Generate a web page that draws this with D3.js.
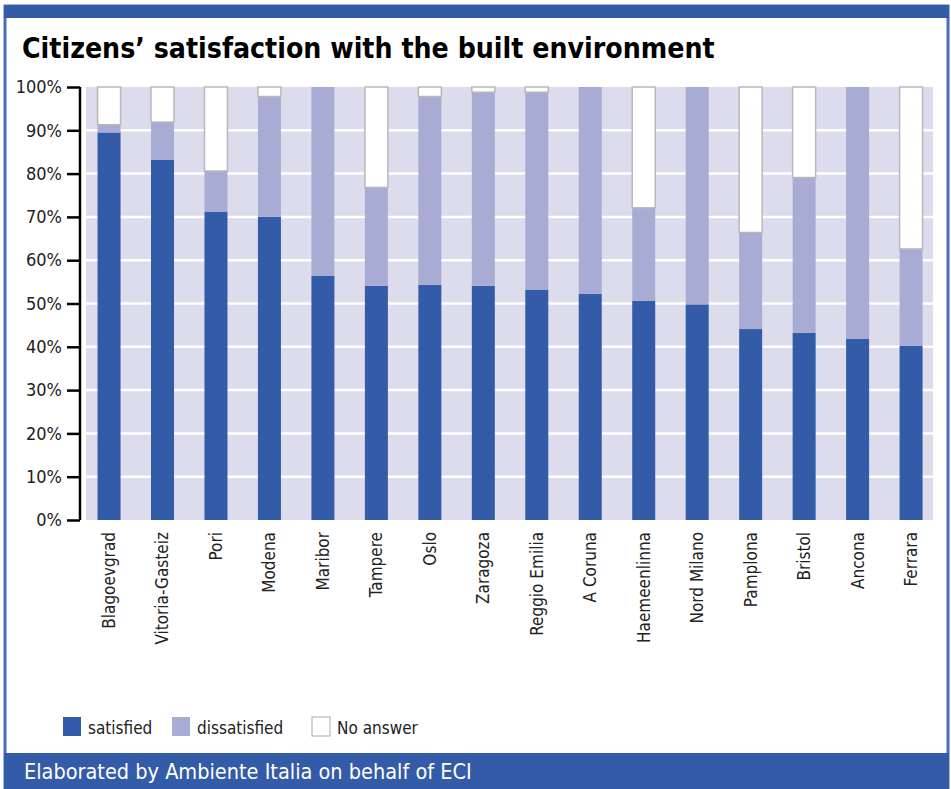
<!DOCTYPE html>
<html>
<head>
<meta charset="utf-8">
<script src="https://cdn.jsdelivr.net/npm/d3@7"></script>
<style>
  html, body { margin: 0; padding: 0; background: #ffffff; }
  svg { display: block; }
</style>
</head>
<body>
<svg id="chart" width="951" height="789"></svg>
<script>
const title = "Citizens\u2019 satisfaction with the built environment";
const footer = "Elaborated by Ambiente Italia on behalf of ECI";
const categories = ["Blagoevgrad", "Vitoria-Gasteiz", "Pori", "Modena", "Maribor", "Tampere", "Oslo", "Zaragoza", "Reggio Emilia", "A Coruna", "Haemeenlinna", "Nord Milano", "Pamplona", "Bristol", "Ancona", "Ferrara"];
const satisfied    = [89.5, 83.2, 71.2, 70.0, 56.4, 54.1, 54.3, 54.1, 53.2, 52.2, 50.6, 49.8, 44.1, 43.2, 41.8, 40.2];
const dissatisfied = [1.8, 8.7, 9.4, 27.8, 43.6, 22.7, 43.5, 44.7, 45.6, 47.8, 21.5, 50.2, 22.3, 35.9, 58.2, 22.4];
const noAnswer     = [8.7, 8.1, 19.4, 2.2, 0, 23.2, 2.2, 1.2, 1.2, 0, 27.9, 0, 33.6, 20.9, 0, 37.4];
const seriesNames  = ["satisfied", "dissatisfied", "No answer"];
const yTicks = [0, 10, 20, 30, 40, 50, 60, 70, 80, 90, 100];

const BLUE = "#345ba7";
const LIGHT = "#a8abd3";
const BG = "#dddcec";
const NARROW = "'Liberation Sans Narrow', 'DejaVu Sans Condensed', 'Arial Narrow', sans-serif";

const svg = d3.select("#chart");

// frame
svg.append("rect").attr("x", 5).attr("y", 6).attr("width", 943).attr("height", 783).attr("fill", "#ffffff")
  .attr("stroke", "#4a6fb8").attr("stroke-width", 3);
svg.append("rect").attr("x", 4).attr("y", 5).attr("width", 945).attr("height", 13).attr("fill", BLUE);
svg.append("rect").attr("x", 4).attr("y", 753).attr("width", 945).attr("height", 36).attr("fill", BLUE);

// title
const t = svg.append("text").attr("x", 22).attr("y", 58).text(title)
  .attr("font-family", NARROW).attr("font-weight", "bold").attr("font-size", 30).attr("fill", "#000");
(function fit(el, target) {
  const w = el.node().getComputedTextLength();
  const fs = parseFloat(el.attr("font-size"));
  el.attr("font-size", fs * target / w);
})(t, 693);

// scales
const y = d3.scaleLinear().domain([0, 100]).range([520, 87]);
const x = d3.scaleBand().domain(categories).range([82.3, 937.8]).paddingInner(0.57).paddingOuter(0.285);

// plot background
svg.append("rect").attr("x", 86).attr("y", y(100)).attr("width", 847).attr("height", y(0) - y(100)).attr("fill", BG);

// gridlines
svg.append("g").selectAll("line").data(yTicks.filter(d => d > 0 && d < 100)).join("line")
  .attr("x1", 86).attr("x2", 933).attr("y1", d => y(d)).attr("y2", d => y(d))
  .attr("stroke", "#ffffff").attr("stroke-width", 2.5);

// stacked data
const rows = categories.map((c, i) => ({ city: c, satisfied: satisfied[i], dissatisfied: dissatisfied[i], "No answer": noAnswer[i] }));
const stack = d3.stack().keys(seriesNames)(rows);
const fills = { "satisfied": BLUE, "dissatisfied": LIGHT, "No answer": "#ffffff" };

const bw = 23;
stack.forEach(layer => {
  svg.append("g").selectAll("rect").data(layer.filter(d => d[1] - d[0] > 0)).join("rect")
    .attr("x", d => x(d.data.city) + x.bandwidth() / 2 - bw / 2)
    .attr("width", bw)
    .attr("y", d => y(d[1]))
    .attr("height", d => y(d[0]) - y(d[1]))
    .attr("fill", fills[layer.key])
    .attr("stroke", layer.key === "No answer" ? "#b8b8bc" : "none")
    .attr("stroke-width", layer.key === "No answer" ? 1.5 : 0);
});

// y axis
const yAxis = d3.axisLeft(y).tickValues(yTicks).tickFormat(d => d + "%").tickSize(13).tickPadding(5);
const ga = svg.append("g").attr("transform", "translate(80,0)").call(yAxis);
ga.select(".domain").attr("stroke", "#000").attr("stroke-width", 2.5).attr("d", `M0,${y(100)}V${y(0)}`);
ga.selectAll(".tick line").attr("stroke", "#000").attr("stroke-width", 2.5);
ga.selectAll(".tick text").attr("font-family", NARROW).attr("font-size", 18).attr("fill", "#222");

// x labels
svg.append("g").selectAll("text").data(categories).join("text")
  .attr("transform", d => `translate(${x(d) + x.bandwidth() / 2},532) rotate(-90)`)
  .attr("text-anchor", "end").attr("dy", "0.35em")
  .attr("font-family", NARROW).attr("font-size", 17).attr("fill", "#222")
  .text(d => d);

// legend
const legendX = [63, 172, 312];
const lg = svg.append("g");
seriesNames.forEach((s, i) => {
  lg.append("rect").attr("x", legendX[i]).attr("y", 717).attr("width", 18).attr("height", 19)
    .attr("fill", fills[s]).attr("stroke", s === "No answer" ? "#aaa" : "none").attr("stroke-width", 1);
  lg.append("text").attr("x", legendX[i] + 25).attr("y", 734).text(s)
    .attr("font-family", NARROW).attr("font-size", 17).attr("fill", "#222");
});

// footer text
svg.append("text").attr("x", 24).attr("y", 779).text(footer)
  .attr("font-family", NARROW).attr("font-size", 21.5).attr("fill", "#ffffff");
</script>
</body>
</html>
